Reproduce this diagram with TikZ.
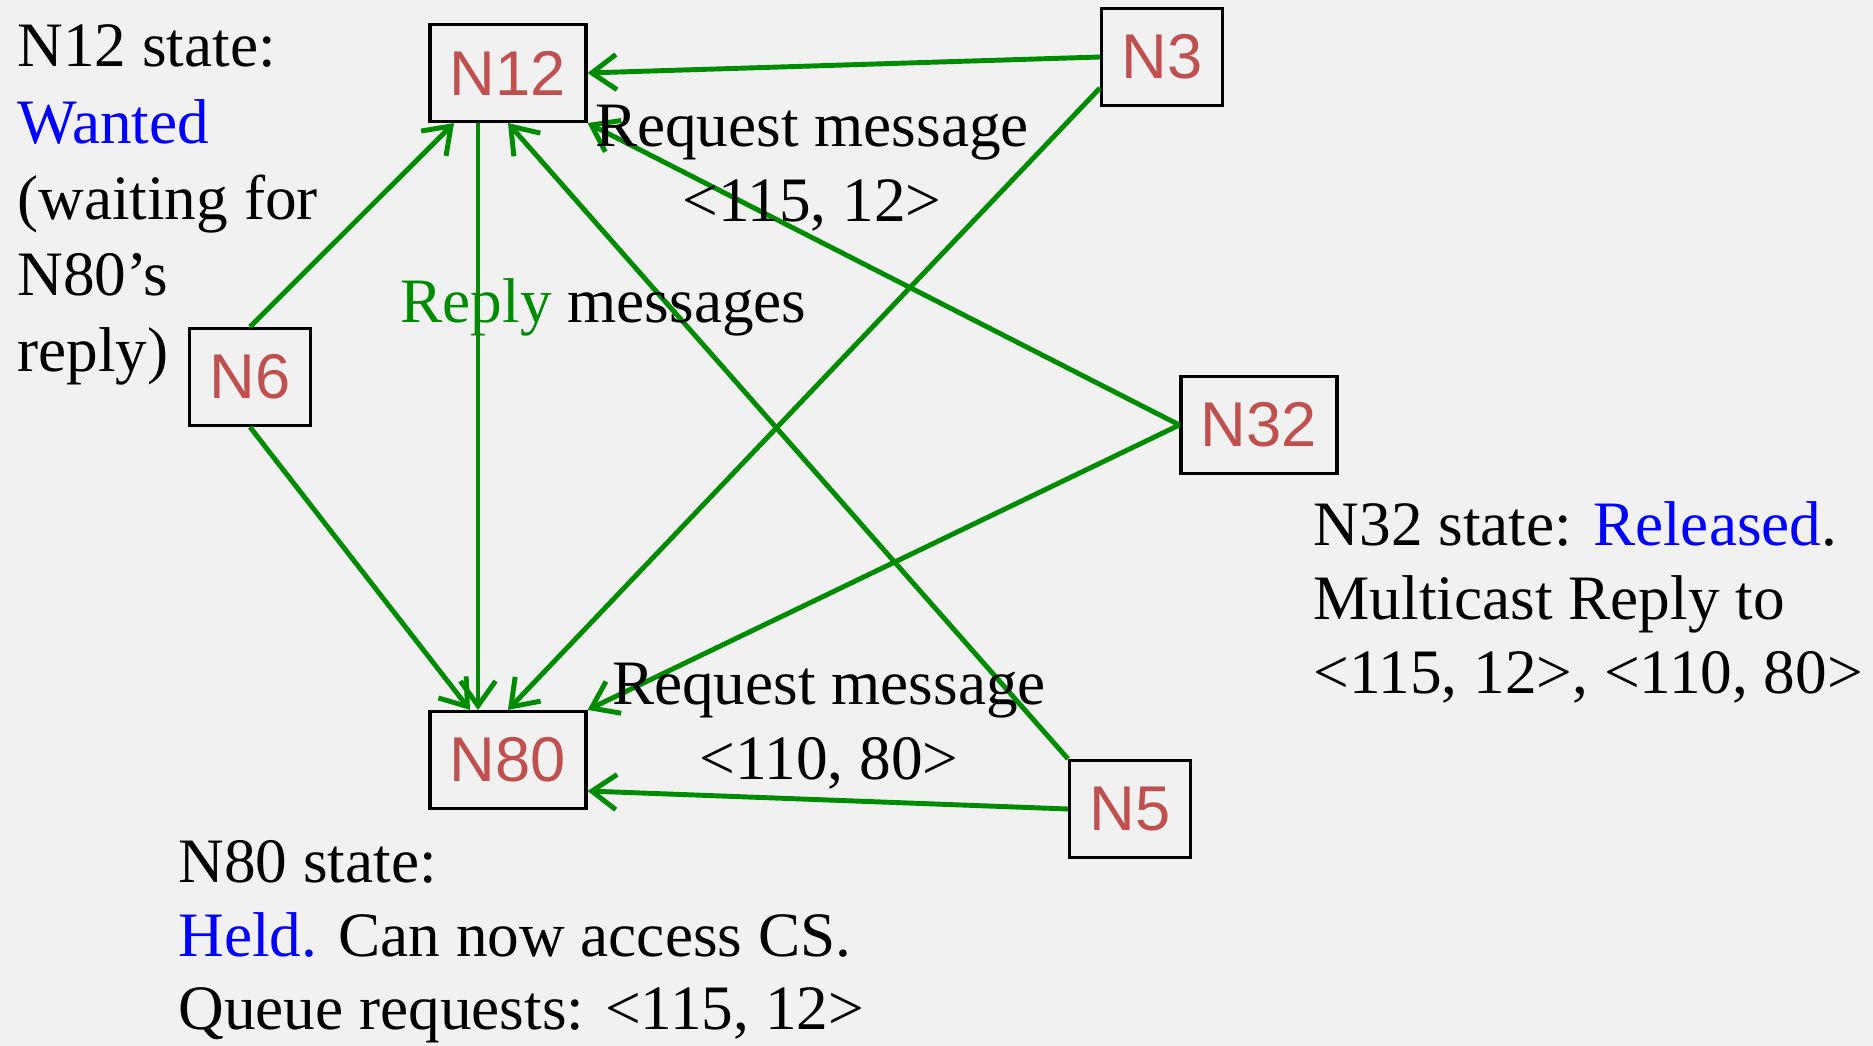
\documentclass[tikz,border=0pt]{standalone}
\usepackage{fontspec}
\setmainfont{Liberation Serif}
\setsansfont{Liberation Sans}
\usetikzlibrary{arrows.meta}
\definecolor{nodered}{RGB}{192,80,77}
\definecolor{msggreen}{RGB}{0,140,0}
\definecolor{replyblue}{RGB}{0,0,255}
\definecolor{bgcol}{RGB}{241,241,241}

\begin{document}
\begin{tikzpicture}[font=\fontsize{18}{21.5}\selectfont,
    proc/.style={draw,line width=0.9pt,inner xsep=0.2cm,minimum height=0.97cm,font=\fontsize{18}{21.5}\sffamily,text=nodered},
    msg/.style={draw=msggreen,line width=1.4pt,-{Straight Barb[length=7pt,width=10pt]}},
    txt/.style={inner sep=0pt,anchor=base west,align=left}]
        \fill[bgcol] (0,0) rectangle (18.73,-10.46);
        \useasboundingbox (0,0) rectangle (18.73,-10.46);
        \node[proc] (n12) at (5.08,-0.73) {N12};
        \node[proc] (n3) at (11.62,-0.57) {N3};
        \node[proc] (n6) at (2.50,-3.77) {N6};
        \node[proc] (n32) at (12.59,-4.25) {N32};
        \node[proc] (n80) at (5.08,-7.60) {N80};
        \node[proc] (n5) at (11.30,-8.09) {N5};
        \draw[msg] (n3.west) -- (n12.east);
        \draw[msg] ([yshift=-0.31cm]n3.west) -- (n80.north);
        \draw[msg] (n6.north) -- ([xshift=-0.54cm]n12.south);
        \draw[msg] (n6.south) -- ([xshift=-0.38cm]n80.north);
        \draw[msg] ([xshift=-0.3cm]n12.south) -- ([xshift=-0.3cm]n80.north);
        \draw[msg] (n5.north west) -- (n12.south);
        \draw[msg] (n5.west) -- ([yshift=-0.31cm]n80.east);
        \draw[msg] (n32.west) -- (n12.south east);
        \draw[msg] (n32.west) -- (n80.north east);
        \node[txt,font=\fontsize{18}{21.7}\selectfont] (s12) at (0.167,-3.72) {N12 state:\\\textcolor{replyblue}{Wanted}\\(waiting for\\N80's\\reply)};
        \node[txt,font=\fontsize{18}{21}\selectfont] (s32) at (13.13,-6.933) {N32 state: \textcolor{replyblue}{Released}.\\Multicast Reply to\\<115, 12>, <110, 80>};
        \node[txt,font=\fontsize{18}{21}\selectfont] (s80) at (1.777,-10.30) {N80 state:\\\textcolor{replyblue}{Held.} Can now access CS.\\Queue requests: <115, 12>};
        \node[txt,anchor=base,align=center] (r12) at (8.12,-2.217) {Request message\\<115, 12>};
        \node[txt,anchor=base,align=center] (r80) at (8.29,-7.80) {Request message\\<110, 80>};
        \node[txt] (rep) at (4.00,-3.225) {\textcolor{msggreen}{Reply} messages};
    \end{tikzpicture}
\end{document}
